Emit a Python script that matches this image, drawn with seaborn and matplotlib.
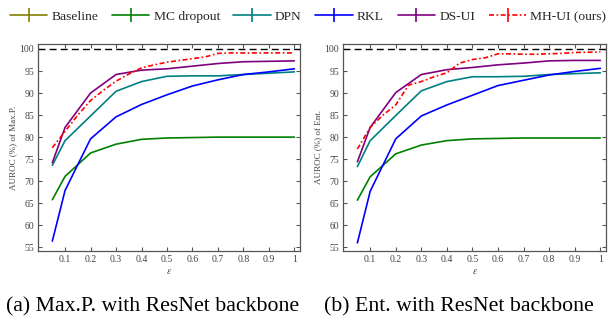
import numpy as np
import pandas as pd
import matplotlib
matplotlib.use("Agg")
import matplotlib.pyplot as plt
import seaborn as sns

sns.set_theme(style="white")
plt.rcParams['font.family'] = ['Liberation Serif', 'DejaVu Serif']
plt.rcParams['mathtext.fontset'] = 'stix'

# ---------------- data ----------------
methods = ["Baseline", "MC dropout", "DPN", "RKL", "DS-UI", "MH-UI (ours)"]
colors = ["#808000", "#008000", "#008080", "#0000FF", "#800080", "#FF0000"]
styles = ["-", "-", "-", "-", "-", (0, (3, 1.5, 1, 1.5))]

eps = [0.05, 0.1, 0.2, 0.3, 0.4, 0.5, 0.6, 0.7, 0.8, 0.9, 1.0]
eps_fine = [0.05, 0.1, 0.15, 0.2, 0.25, 0.3, 0.35, 0.4, 0.45, 0.5, 0.55,
            0.6, 0.65, 0.7, 0.75, 0.8, 0.85, 0.9, 0.95, 1.0]

# (a) Max.P.
maxp_mc = [65.8, 71.1, 76.4, 78.4, 79.5, 79.8, 79.9, 80.0, 80.0, 80.0, 80.0]
maxp_dpn = [73.6, 79.2, 84.8, 90.4, 92.6, 93.8, 93.9, 93.9, 94.2, 94.5, 94.8]
maxp_rkl = [56.4, 67.9, 79.6, 84.6, 87.4, 89.6, 91.6, 93.0, 94.2, 94.8, 95.5]
maxp_dsui = [74.2, 82.2, 90.0, 94.2, 95.2, 95.5, 96.1, 96.7, 97.1, 97.2, 97.3]
maxp_mhui = [77.6, 81.3, 85.0, 88.3, 90.6, 92.7, 94.3, 95.7, 96.4, 97.0, 97.4,
             97.8, 98.2, 99.0, 99.1, 99.1, 99.1, 99.1, 99.1, 99.1]

# (b) Ent.
ent_mc = [65.7, 71.0, 76.2, 78.2, 79.2, 79.6, 79.7, 79.8, 79.8, 79.8, 79.8]
ent_dpn = [73.3, 79.2, 84.9, 90.5, 92.6, 93.7, 93.7, 93.8, 94.2, 94.4, 94.6]
ent_rkl = [56.0, 67.7, 79.6, 84.8, 87.3, 89.5, 91.7, 92.9, 94.1, 94.9, 95.6]
ent_dsui = [74.4, 82.2, 90.1, 94.2, 95.3, 95.8, 96.4, 96.8, 97.3, 97.4, 97.4]
ent_mhui = [77.3, 82.2, 85.0, 87.3, 91.8, 92.6, 93.7, 94.6, 96.8, 97.6, 98.0,
            98.9, 98.9, 98.8, 98.8, 98.9, 99.0, 99.2, 99.25, 99.3]

upper_bound = 100.0
xticks = [0.1, 0.2, 0.3, 0.4, 0.5, 0.6, 0.7, 0.8, 0.9, 1.0]
xticklabels = ["0.1", "0.2", "0.3", "0.4", "0.5", "0.6", "0.7", "0.8", "0.9", "1"]
yticks = [55, 60, 65, 70, 75, 80, 85, 90, 95, 100]

panels = [
    dict(series=[None, maxp_mc, maxp_dpn, maxp_rkl, maxp_dsui, maxp_mhui],
         ylabel="AUROC (%) of Max.P.", caption="(a) Max.P. with ResNet backbone"),
    dict(series=[None, ent_mc, ent_dpn, ent_rkl, ent_dsui, ent_mhui],
         ylabel="AUROC (%) of Ent.", caption="(b) Ent. with ResNet backbone"),
]

# ---------------- figure ----------------
fig = plt.figure(figsize=(6.10, 3.22), dpi=100)
ax_rects = [[0.0628, 0.221, 0.429, 0.642], [0.5628, 0.221, 0.4306, 0.642]]
cap_x = [0.25, 0.752]
spine_col = "#555555"

handles = []
for pi, (panel, rect) in enumerate(zip(panels, ax_rects)):
    ax = fig.add_axes(rect)
    for mi, m in enumerate(methods):
        vals = panel["series"][mi]
        if vals is None:
            continue
        xs = eps_fine if len(vals) == len(eps_fine) else eps
        sns.lineplot(x=xs, y=vals, ax=ax, color=colors[mi], linestyle=styles[mi],
                     linewidth=1.2, legend=False)
    ax.axhline(upper_bound, color="black", linestyle=(0, (5, 3)), linewidth=1.0)
    ax.set_xlim(-0.005, 1.022)
    ax.set_ylim(54.2, 101.1)
    ax.set_xticks(xticks)
    ax.set_xticklabels(xticklabels)
    ax.set_yticks(yticks)
    ax.tick_params(direction="in", length=3, width=0.8, colors=spine_col,
                   labelsize=7, labelcolor="#444444", top=True, right=True,
                   bottom=True, left=True, pad=3)
    for s in ax.spines.values():
        s.set_color(spine_col)
        s.set_linewidth(0.9)
    ax.set_xlabel(r"$\epsilon$", fontsize=7, color="#444444", labelpad=2)
    ax.set_ylabel(panel["ylabel"], fontsize=6.5, color="#444444", labelpad=2)
    fig.text(cap_x[pi], 0.048, panel["caption"], ha="center", va="center",
             fontsize=15.7, color="black")
    if pi == 0:
        for mi, m in enumerate(methods):
            h = ax.errorbar([], [], yerr=[], color=colors[mi], linestyle=styles[mi],
                            linewidth=1.2, capsize=4, capthick=1.2, elinewidth=1.2)
            handles.append(h)

fig.legend(handles, methods, loc="upper center", bbox_to_anchor=(0.505, 1.005),
           ncol=6, frameon=False, fontsize=9.7, handlelength=2.8,
           columnspacing=1.0, handletextpad=0.3)

fig.savefig("out.png", dpi=100)
